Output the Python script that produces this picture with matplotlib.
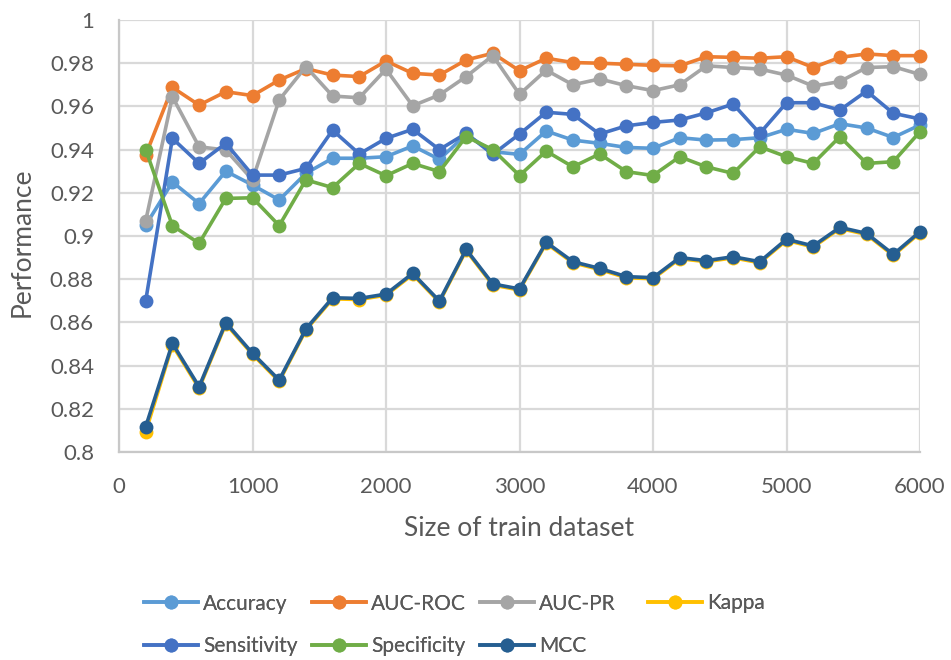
import numpy as np
import matplotlib.pyplot as plt
from matplotlib.ticker import FixedLocator

train_size = list(range(200, 6001, 200))

accuracy = [0.905, 0.925, 0.915, 0.930, 0.9236, 0.9167, 0.929, 0.936, 0.936, 0.9367,
            0.9417, 0.9355, 0.947, 0.939, 0.9378, 0.9486, 0.9444, 0.9429, 0.941, 0.9406,
            0.9455, 0.9444, 0.9446, 0.9455, 0.9494, 0.9475, 0.952, 0.950, 0.9456, 0.9514]
auc_roc = [0.9375, 0.9688, 0.9606, 0.9668, 0.965, 0.9722, 0.9775, 0.9745, 0.9738, 0.981,
           0.9753, 0.9745, 0.9815, 0.9846, 0.9765, 0.9823, 0.9803, 0.980, 0.9795, 0.979,
           0.9788, 0.983, 0.9827, 0.9823, 0.983, 0.978, 0.9827, 0.9843, 0.9835, 0.9835]
auc_pr = [0.907, 0.9645, 0.9413, 0.9398, 0.926, 0.963, 0.9784, 0.9648, 0.964, 0.9772,
          0.9603, 0.9653, 0.9738, 0.9835, 0.9656, 0.9768, 0.970, 0.9727, 0.9696, 0.9673,
          0.970, 0.9788, 0.978, 0.9773, 0.9745, 0.9694, 0.9715, 0.978, 0.9784, 0.9748]
kappa = [0.8094, 0.8495, 0.8295, 0.8593, 0.8452, 0.8327, 0.8565, 0.8709, 0.8706, 0.8726,
         0.8822, 0.8694, 0.8933, 0.8773, 0.8750, 0.8966, 0.8876, 0.8845, 0.8807, 0.8802,
         0.8895, 0.8881, 0.8899, 0.8876, 0.8980, 0.8949, 0.9035, 0.9007, 0.8910, 0.9015]
sensitivity = [0.870, 0.9452, 0.9336, 0.9429, 0.9282, 0.9282, 0.9313, 0.949, 0.938, 0.9452,
               0.9494, 0.940, 0.9475, 0.9378, 0.9472, 0.9573, 0.9563, 0.9472, 0.951, 0.9526,
               0.9537, 0.957, 0.9611, 0.9475, 0.9617, 0.9617, 0.9583, 0.9671, 0.9568, 0.9542]
specificity = [0.940, 0.9048, 0.8966, 0.9174, 0.9177, 0.9048, 0.926, 0.9224, 0.9336, 0.9279,
               0.9336, 0.9298, 0.946, 0.940, 0.928, 0.9393, 0.932, 0.938, 0.9298, 0.928,
               0.9367, 0.932, 0.929, 0.9413, 0.9367, 0.9336, 0.946, 0.9336, 0.9344, 0.9483]
mcc = [0.8117, 0.8503, 0.8302, 0.8599, 0.8457, 0.8333, 0.857, 0.8714, 0.8711, 0.8731,
       0.8827, 0.8699, 0.8938, 0.8778, 0.8755, 0.8971, 0.8881, 0.885, 0.8812, 0.8807,
       0.890, 0.8886, 0.8904, 0.8881, 0.8985, 0.8954, 0.904, 0.9012, 0.8915, 0.902]

series = [
    ('Accuracy', accuracy, '#5B9BD5'),
    ('AUC-ROC', auc_roc, '#ED7D31'),
    ('AUC-PR', auc_pr, '#A5A5A5'),
    ('Kappa', kappa, '#FFC000'),
    ('Sensitivity', sensitivity, '#4472C4'),
    ('Specificity', specificity, '#70AD47'),
    ('MCC', mcc, '#255E91'),
]

plt.rcParams['font.family'] = ['Lato', 'DejaVu Sans']
text_color = '#595959'
grid_color = '#D9D9D9'
W, H = 951, 660

fig = plt.figure(figsize=(W / 100, H / 100), dpi=100)
ax = fig.add_axes([119 / W, 1 - 452 / H, (920 - 119) / W, (452 - 20) / H])

handles = {}
for name, vals, color in series:
    h, = ax.plot(train_size, vals, color=color, lw=2.6, marker='o', ms=10,
                 markeredgewidth=0, label=name, clip_on=False, zorder=3)
    handles[name] = h

ax.set_xlim(0, 6000)
ax.set_ylim(0.8, 1.0)
ax.xaxis.set_major_locator(FixedLocator(np.arange(0, 6001, 1000)))
ax.yaxis.set_major_locator(FixedLocator(np.arange(0.8, 1.0001, 0.02)))
ax.set_yticklabels(['0.8', '0.82', '0.84', '0.86', '0.88', '0.9', '0.92', '0.94',
                    '0.96', '0.98', '1'])
ax.grid(True, color=grid_color, lw=1.6, zorder=0)
ax.set_axisbelow(True)
for side in ['top', 'right']:
    ax.spines[side].set_visible(False)
for side in ['left', 'bottom']:
    ax.spines[side].set_color('#C8C8C8')
    ax.spines[side].set_linewidth(1.6)
ax.tick_params(length=0, labelsize=16, labelcolor=text_color)
ax.tick_params(axis='y', pad=18)
ax.tick_params(axis='x', pad=18)

ax.set_xlabel('Size of train dataset', fontsize=19, color=text_color, va='center')
ax.xaxis.set_label_coords(0.5, -(528 - 452) / 432)
ax.set_ylabel('Performance', fontsize=19, color=text_color, va='center')
ax.yaxis.set_label_coords((22 - 119) / 801, 0.486)

# legend laid out as four fixed-width columns
columns = [(['Accuracy', 'Sensitivity'], 144), (['AUC-ROC', 'Specificity'], 312),
           (['AUC-PR', 'MCC'], 480), (['Kappa'], 648)]
for names, x0 in columns:
    yc = 625 if len(names) == 2 else 603
    leg = fig.legend([handles[n] for n in names], names, frameon=False,
                     loc='center left', bbox_to_anchor=(x0 / W, 1 - yc / H),
                     fontsize=15, labelcolor=text_color, handlelength=2.6,
                     handletextpad=0.25, labelspacing=1.1, borderpad=0,
                     borderaxespad=0)
    fig.add_artist(leg)

fig.savefig('out.png', dpi=100)
